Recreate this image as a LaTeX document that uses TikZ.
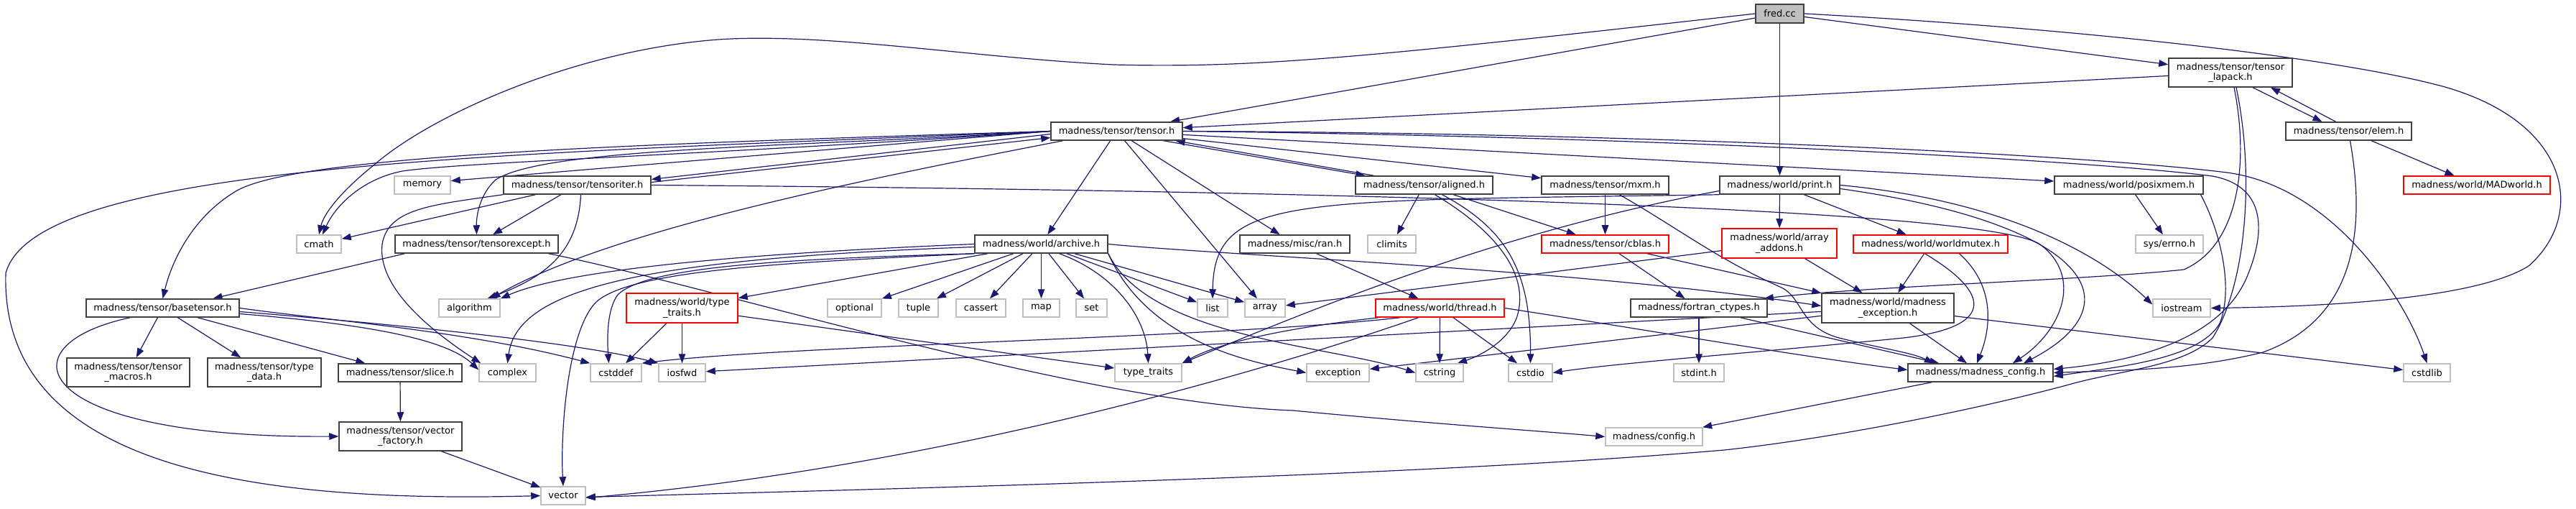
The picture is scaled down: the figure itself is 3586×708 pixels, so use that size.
\documentclass[tikz,border=0pt]{standalone}
\usepackage{fontspec}
\setmainfont{DejaVu Sans}
\usetikzlibrary{arrows.meta}
\pgfdeclarelayer{bg}
\pgfsetlayers{bg,main}
\definecolor{edgec}{HTML}{191970}
\definecolor{docb}{HTML}{404040}
\definecolor{sysb}{HTML}{BFBFBF}
\definecolor{truncb}{HTML}{FF0000}
\definecolor{rootf}{HTML}{BFBFBF}
\begin{document}
\begin{tikzpicture}[x=1pt,y=-1pt,font=\fontsize{13}{14.5}\selectfont,
  doc/.style={draw=docb,fill=white,line width=1.5pt,inner sep=0pt,align=center,minimum height=25pt},
  sys/.style={doc,draw=sysb},
  trunc/.style={doc,draw=truncb},
  e/.style={draw=edgec,line width=1.2pt,-{Triangle[length=13pt,width=9.5pt]}}]
\useasboundingbox (0,0) rectangle (3586,708);
% ---------- nodes ----------
\node[doc,fill=rootf,minimum width=67pt,minimum height=26pt] (fred) at (2477.5,19) {fred.cc};
\node[doc,minimum width=172pt,minimum height=40pt] (lapack) at (3105,101) {madness/tensor/tensor\\\_lapack.h};
\node[doc,minimum width=183pt] (tensor) at (1554.5,182.5) {madness/tensor/tensor.h};
\node[doc,minimum width=175pt] (elem) at (3269.5,182.5) {madness/tensor/elem.h};
\node[sys,minimum width=78pt] (memory) at (588,257.5) {memory};
\node[doc,minimum width=205pt] (tensoriter) at (803.5,257.5) {madness/tensor/tensoriter.h};
\node[doc,minimum width=191pt] (aligned) at (1982.5,257.5) {madness/tensor/aligned.h};
\node[doc,minimum width=177pt] (mxm) at (2234.5,257.5) {madness/tensor/mxm.h};
\node[doc,minimum width=167pt] (print) at (2477.5,257.5) {madness/world/print.h};
\node[doc,minimum width=207pt] (posixmem) at (2963.5,257.5) {madness/world/posixmem.h};
\node[trunc,minimum width=204pt] (MADworld) at (3448,257.5) {madness/world/MADworld.h};
\node[sys,minimum width=62pt] (cmath) at (444,339.5) {cmath};
\node[doc,minimum width=227pt] (tensorexcept) at (663.5,339.5) {madness/tensor/tensorexcept.h};
\node[doc,minimum width=185pt] (archive) at (1449.5,339.5) {madness/world/archive.h};
\node[doc,minimum width=153pt] (ran) at (1802.5,339.5) {madness/misc/ran.h};
\node[sys,minimum width=67pt] (climits) at (1937.5,339.5) {climits};
\node[trunc,minimum width=177pt] (cblas) at (2234.5,339.5) {madness/tensor/cblas.h};
\node[trunc,minimum width=160pt,minimum height=41pt] (addons) at (2477,338.5) {madness/world/array\\\_addons.h};
\node[trunc,minimum width=215pt] (mutex) at (2687.5,339.5) {madness/world/worldmutex.h};
\node[sys,minimum width=94pt] (errno) at (3020,339.5) {sys/errno.h};
\node[doc,minimum width=213pt] (basetensor) at (226.5,428.5) {madness/tensor/basetensor.h};
\node[sys,minimum width=85pt] (algorithm) at (653.5,428.5) {algorithm};
\node[trunc,minimum width=155pt,minimum height=41pt] (wtraits) at (949.5,428.5) {madness/world/type\\\_traits.h};
\node[sys,minimum width=75pt] (optional) at (1189.5,428.5) {optional};
\node[sys,minimum width=55pt] (tuple) at (1278.5,428.5) {tuple};
\node[sys,minimum width=69pt] (cassert) at (1365.5,428.5) {cassert};
\node[sys,minimum width=51pt] (map) at (1449.5,428.5) {map};
\node[sys,minimum width=43pt] (set) at (1519.5,428.5) {set};
\node[sys,minimum width=42pt] (list) at (1688,428.5) {list};
\node[sys,minimum width=56pt] (array) at (1761,428.5) {array};
\node[trunc,minimum width=179pt] (thread) at (2004.5,428.5) {madness/world/thread.h};
\node[doc,minimum width=190pt] (fortran) at (2365,428.5) {madness/fortran\_ctypes.h};
\node[doc,minimum width=184pt,minimum height=41pt] (mexc) at (2628,428.5) {madness/world/madness\\\_exception.h};
\node[sys,minimum width=80pt] (iostream) at (3037,428.5) {iostream};
\node[doc,minimum width=171pt,minimum height=40pt] (macros) at (178.5,518) {madness/tensor/tensor\\\_macros.h};
\node[doc,minimum width=158pt,minimum height=40pt] (typedata) at (368,518) {madness/tensor/type\\\_data.h};
\node[doc,minimum width=172pt] (slice) at (557,518.5) {madness/tensor/slice.h};
\node[sys,minimum width=79pt] (complex) at (706.5,518.5) {complex};
\node[sys,minimum width=71pt] (cstddef) at (857.5,518.5) {cstddef};
\node[sys,minimum width=65pt] (iosfwd) at (949.5,518.5) {iosfwd};
\node[sys,minimum width=93pt] (typetraits) at (1598.5,518.5) {type\_traits};
\node[sys,minimum width=87pt] (exception) at (1862.5,518.5) {exception};
\node[sys,minimum width=66pt] (cstring) at (2004,518.5) {cstring};
\node[sys,minimum width=61pt] (cstdio) at (2130.5,518.5) {cstdio};
\node[sys,minimum width=70pt] (stdint) at (2365,518.5) {stdint.h};
\node[doc,minimum width=202pt] (mconfig) at (2757,518.5) {madness/madness\_config.h};
\node[sys,minimum width=65pt] (cstdlib) at (3378.5,518.5) {cstdlib};
\node[doc,minimum width=171pt,minimum height=40pt] (vfactory) at (557.5,607) {madness/tensor/vector\\\_factory.h};
\node[sys,minimum width=135pt] (config) at (2302.5,607.5) {madness/config.h};
\node[sys,minimum width=62pt] (vector) at (784,689.5) {vector};
% ---------- edges ----------
\begin{pgfonlayer}{bg}
% fred.cc
\draw[e] (fred) -- (tensor);
\draw[e] (fred.west) .. controls (1900,80) and (1750,95) .. (1550,90) .. controls (1350,80) and (1150,45) .. (1000,55) .. controls (800,70) and (600,160) .. (520,230) .. controls (470,270) and (450,300) .. (cmath.north);
\draw[e] (fred) -- (print);
\draw[e] (fred) -- (lapack);
\draw[e] (fred.east) .. controls (2900,40) and (3250,80) .. (3400,120) .. controls (3580,170) and (3600,300) .. (3520,370) .. controls (3440,420) and (3200,427) .. (iostream.east);
% tensor_lapack.h
\draw[e] (lapack) -- (tensor);
\draw[e] ([xshift=31pt]lapack.south) -- ([xshift=-37pt]elem.north);
\draw[e] ([xshift=-18pt]elem.north) -- ([xshift=56pt]lapack.south);
\draw[e] ([xshift=5pt]lapack.south) .. controls (3130,220) and (3120,340) .. (3040,375) .. controls (2900,390) and (2600,398) .. ([xshift=-5pt]fortran.north east);
\draw[e] ([xshift=8pt]lapack.south) .. controls (3140,250) and (3125,400) .. (3080,470) .. controls (3040,510) and (2950,515) .. (2880,535) .. controls (2750,570) and (2550,610) .. (2400,626) .. controls (2000,660) and (1400,676) .. ([yshift=-2pt]vector.east);
% elem.h
\draw[e] (elem) -- (MADworld);
\draw[e] ([xshift=2pt]elem.south) .. controls (3290,300) and (3290,440) .. (3150,490) .. controls (3050,515) and (2950,515) .. (mconfig.east);
% tensor.h
\draw[e] (tensor.west) -- ([yshift=6pt]memory.east);
\draw[e] ([yshift=-4pt]tensor.west) -- ([yshift=8pt]tensoriter.east);
\draw[e] ([yshift=4pt]tensoriter.east) -- ([yshift=-9pt]tensor.west);
\draw[e] (tensor.west) .. controls (1000,215) and (650,225) .. (560,238) .. controls (500,250) and (465,290) .. ([xshift=5pt]cmath.north);
\draw[e] (tensor.west) .. controls (1100,205) and (760,205) .. (690,250) .. controls (668,270) and (663,300) .. (tensorexcept.north);
\draw[e] (tensor.west) .. controls (900,200) and (420,215) .. (330,265) .. controls (270,300) and (240,360) .. (basetensor.north);
\draw[e] (tensor.west) .. controls (700,215) and (50,225) .. (8,380) .. controls (0,650) and (350,700) .. (vector.west);
\draw[e] ([xshift=65pt]tensor.south) -- ([xshift=-82pt]aligned.north);
\draw[e] ([xshift=-70pt]aligned.north) -- ([xshift=82pt]tensor.south);
\draw[e] (tensor) -- (mxm);
\draw[e] (tensor) -- (posixmem);
\draw[e] (tensor.east) .. controls (2300,185) and (2900,215) .. (3100,240) .. controls (3250,260) and (3350,420) .. (cstdlib.north);
\draw[e] (tensor.east) .. controls (2300,190) and (2900,222) .. (3080,245) .. controls (3160,260) and (3150,330) .. (3130,380) .. controls (3100,460) and (3000,500) .. ([yshift=5pt]mconfig.east);
\draw[e] (tensor) -- (archive);
\draw[e] (tensor) -- (ran);
\draw[e] (tensor) -- (array);
\draw[e] ([xshift=-75pt]tensor.south) .. controls (1200,250) and (850,320) .. ([xshift=30pt]algorithm.north);
% tensoriter.h
\draw[e] (tensoriter) -- (tensorexcept);
\draw[e] (tensoriter) -- (cmath);
\draw[e] (tensoriter.south west) .. controls (600,285) and (540,290) .. (532,340) .. controls (525,400) and (600,460) .. ([xshift=3pt]complex.north west);
\draw[e] ([xshift=5pt]tensoriter.south) .. controls (805,350) and (760,385) .. ([xshift=25pt]algorithm.north);
\draw[e] (tensoriter.east) .. controls (1500,262) and (2750,280) .. (2840,340) .. controls (2900,385) and (2870,460) .. ([xshift=45pt]mconfig.north);
% tensorexcept.h
\draw[e] ([xshift=-100pt]tensorexcept.south) -- ([xshift=70pt]basetensor.north);
\draw[e] ([xshift=100pt]tensorexcept.south) .. controls (1000,400) and (1500,560) .. (1800,571) .. controls (2000,590) and (2150,600) .. (config.west);
% basetensor.h
\draw[e] (basetensor) -- (macros);
\draw[e] (basetensor) -- (typedata);
\draw[e] (basetensor) -- (slice);
\draw[e] ([xshift=-45pt]basetensor.south) .. controls (0,480) and (40,610) .. (vfactory.west);
\draw[e] (basetensor.east) .. controls (450,445) and (650,460) .. (cstddef.north west);
\draw[e] ([yshift=-5pt]basetensor.east) .. controls (600,455) and (820,480) .. (iosfwd.north west);
\draw[e] ([yshift=-8pt]basetensor.east) .. controls (500,450) and (620,470) .. ([yshift=4pt]complex.west);
% slice.h, vector_factory.h
\draw[e] (slice) -- (vfactory);
\draw[e] (vfactory) -- (vector);
% aligned.h
\draw[e] (aligned) -- (climits);
\draw[e] (aligned) -- (cblas);
\draw[e] ([xshift=15pt]aligned.south) .. controls (2080,320) and (2130,380) .. (2112,440) .. controls (2100,475) and (2060,495) .. ([xshift=25pt]cstring.north);
\draw[e] ([xshift=25pt]aligned.south) .. controls (2100,320) and (2131,380) .. (cstdio.north);
% mxm.h
\draw[e] (mxm) -- (cblas);
\draw[e] ([xshift=20pt]mxm.south) .. controls (2340,320) and (2390,360) .. (2480,400) .. controls (2510,415) and (2505,455) .. (2560,470) .. controls (2620,485) and (2660,490) .. ([xshift=-65pt]mconfig.north);
% cblas.h
\draw[e] (cblas) -- (fortran);
\draw[e] (cblas) -- (mexc);
% print.h
\draw[e] (print) -- (addons);
\draw[e] (print) -- (mutex);
\draw[e] (print.south west) .. controls (1800,280) and (1690,270) .. (list.north);
\draw[e] ([yshift=-8pt]print.west) .. controls (2100,320) and (1850,420) .. (typetraits.north east);
\draw[e] (print.east) .. controls (2800,280) and (2930,360) .. ([yshift=5pt]iostream.west);
\draw[e] ([yshift=-5pt]print.east) .. controls (2900,310) and (2980,420) .. ([xshift=60pt]mconfig.north);
% array_addons.h
\draw[e] (addons) -- (array);
\draw[e] (addons) -- (mexc);
% worldmutex.h
\draw[e] (mutex) -- (mexc);
\draw[e] ([xshift=-8pt]mutex.south) .. controls (2775,410) and (2775,455) .. (2650,470) .. controls (2450,490) and (2250,505) .. (cstdio.east);
\draw[e] ([xshift=40pt]mutex.south) .. controls (2780,400) and (2770,460) .. ([xshift=-5pt]mconfig.north);
% ran.h
\draw[e] (ran) -- (thread);
% thread.h
\draw[e] (thread) -- (cstring);
\draw[e] (thread) -- (cstdio);
\draw[e] ([xshift=-85pt]thread.south) .. controls (1800,455) and (1700,475) .. (typetraits.north east);
\draw[e] ([xshift=-30pt]thread.south) .. controls (1750,520) and (1300,650) .. ([yshift=-3pt]vector.east);
\draw[e] ([xshift=-55pt]thread.south) .. controls (1700,470) and (1100,480) .. (cstddef.north east);
\draw[e] (thread.east) .. controls (2300,460) and (2500,495) .. ([yshift=4pt]mconfig.west);
% fortran_ctypes.h
\draw[e] (fortran) -- (stdint);
\draw[e] (fortran) -- (mconfig);
% madness_exception.h
\draw[e] (mexc) -- (mconfig);
\draw[e] (mexc) -- (exception);
\draw[e] (mexc) -- (cstdlib);
\draw[e] (mexc) -- (iosfwd);
% madness_config.h
\draw[e] (mconfig) -- (config);
% posixmem.h
\draw[e] (posixmem) -- (errno);
\draw[e] ([xshift=100pt]posixmem.south) .. controls (3090,320) and (3110,400) .. (3090,450) .. controls (3060,500) and (2950,510) .. ([yshift=-5pt]mconfig.east);
% archive.h
\draw[e] (archive.west) .. controls (1100,350) and (800,370) .. (algorithm.north east);
\draw[e] ([yshift=-4pt]archive.west) .. controls (900,360) and (720,400) .. (complex.north);
\draw[e] (archive.south west) .. controls (1100,360) and (900,370) .. (860,410) .. controls (845,430) and (845,470) .. ([xshift=-10pt]cstddef.north);
\draw[e] (archive.south west) .. controls (1100,365) and (880,375) .. (830,420) .. controls (790,460) and (780,600) .. (vector.north);
\draw[e] (archive) -- (wtraits);
\draw[e] (archive) -- (optional);
\draw[e] (archive) -- (tuple);
\draw[e] (archive) -- (cassert);
\draw[e] (archive) -- (map);
\draw[e] (archive) -- (set);
\draw[e] (archive) -- (list);
\draw[e] (archive) -- (array);
\draw[e] ([xshift=25pt]archive.south) .. controls (1550,380) and (1595,440) .. (typetraits.north);
\draw[e] (archive.east) .. controls (1700,355) and (2200,375) .. ([yshift=3pt]mexc.west);
\draw[e] (archive.south east) .. controls (1600,470) and (1850,480) .. (cstring.west);
\draw[e] (archive.south east) .. controls (1600,480) and (1750,505) .. (exception.west);
% world/type_traits.h
\draw[e] (wtraits) -- (cstddef);
\draw[e] (wtraits) -- (iosfwd);
\draw[e] (wtraits) -- (typetraits);
\end{pgfonlayer}
\end{tikzpicture}
\end{document}
